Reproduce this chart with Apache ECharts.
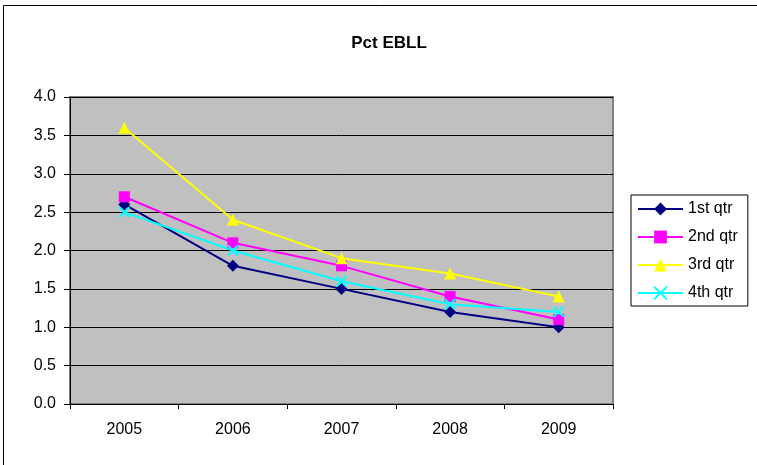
<!DOCTYPE html>
<html><head><meta charset="utf-8">
<script src="https://cdn.jsdelivr.net/npm/echarts@6/dist/echarts.min.js"></script>
<style>html,body{margin:0;padding:0;background:#fff}#c{width:757px;height:465px}</style>
</head><body><div id="c"></div>
<script>
const categories = ['2005','2006','2007','2008','2009'];
const q1 = [2.6, 1.8, 1.5, 1.2, 1.0];
const q2 = [2.7, 2.1, 1.8, 1.4, 1.1];
const q3 = [3.6, 2.4, 1.9, 1.7, 1.4];
const q4 = [2.5, 2.0, 1.6, 1.3, 1.2];
const seriesNames = ['1st qtr','2nd qtr','3rd qtr','4th qtr'];

const font = 'Liberation Sans, Arial, sans-serif';
const chart = echarts.init(document.getElementById('c'), null, {renderer:'canvas'});
const xPath = 'path://M0,0L10,10M10,0L0,10';
function mk(name, data, color, symbol, size) {
  return {
    name, type:'line', data, symbol, symbolSize:size,
    lineStyle:{color, width:2},
    itemStyle:{color, borderColor:color, borderWidth: symbol===xPath?2:0},
    emphasis:{disabled:true}, animation:false
  };
}
chart.setOption({
  animation:false,
  backgroundColor:'#fff',
  title:{text:'Pct EBLL', left:384, top:30, textAlign:'center',
    textStyle:{fontFamily:font, fontSize:17, fontWeight:'bold', color:'#000'}},
  grid:{left:70, right:144, top:97, bottom:61, show:true, backgroundColor:'#c0c0c0', borderColor:'#808080', borderWidth:2},
  xAxis:{type:'category', data:categories, boundaryGap:true,
    axisLine:{lineStyle:{color:'#000', width:1}},
    axisTick:{show:true, length:5, lineStyle:{color:'#000'}},
    axisLabel:{fontFamily:font, fontSize:16, color:'#000', margin:18},
    splitLine:{show:false}},
  yAxis:{type:'value', min:0, max:4, interval:0.5,
    axisLine:{show:true, lineStyle:{color:'#000', width:1}},
    axisTick:{show:true, length:6, lineStyle:{color:'#000'}},
    axisLabel:{fontFamily:font, fontSize:16, color:'#000', margin:14, formatter:v=>v.toFixed(1)},
    splitLine:{show:true, lineStyle:{color:'#000', width:1}}},
  legend:{orient:'vertical', left:631, top:195,
    backgroundColor:'#fff', borderColor:'#000', borderWidth:1,
    padding:[6,10,5,6], itemGap:12, itemWidth:45, itemHeight:16,
    textStyle:{fontFamily:font, fontSize:16, color:'#000'},
    data:seriesNames},
  series:[
    mk(seriesNames[0], q1, '#000080', 'diamond', 12),
    mk(seriesNames[1], q2, '#ff00ff', 'rect', 11),
    mk(seriesNames[2], q3, '#ffff00', 'triangle', 12),
    mk(seriesNames[3], q4, '#00ffff', xPath, 10)
  ],
  graphic:[{type:'rect', shape:{x:3.5,y:5.5,width:800,height:500}, style:{fill:null, stroke:'#000', lineWidth:1}, silent:true, z:-1}]
});
</script></body></html>
